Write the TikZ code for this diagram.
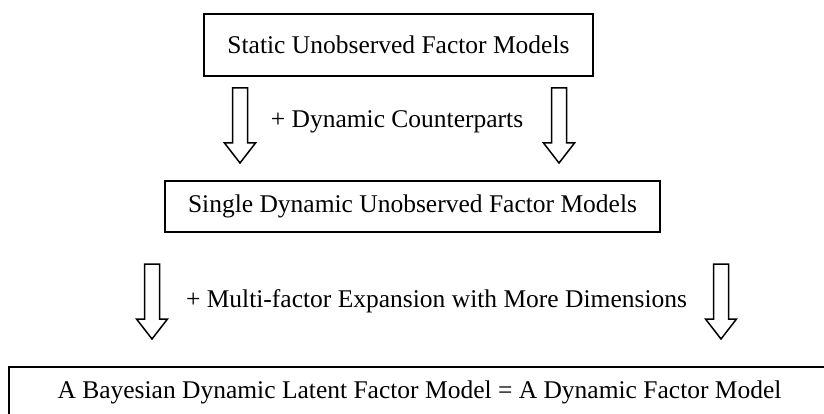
\documentclass[tikz,border=0pt]{standalone}
\usepackage{fontspec}
\setmainfont{Liberation Serif}
\begin{document}
\begin{tikzpicture}[x=1pt,y=1pt,
  txt/.style={font=\fontsize{25.5}{30}\selectfont},
  modelbox/.style={txt, draw, line width=1.5pt, inner sep=0pt},
  stepnote/.style={txt, inner sep=0pt},
  downblock/.pic={
    \draw[line width=1.5pt, line join=miter]
      (-7.5,0) -- (-7.5,-55) -- (-15.5,-55) -- (0,-75) -- (15.5,-55)
      -- (7.5,-55) -- (7.5,0) -- cycle;
  }]
  \useasboundingbox (0,0) rectangle (824,-414);

  % the three stages
  \node[modelbox, minimum width=389, minimum height=62] (static) at (398.5,-45)
    {Static Unobserved Factor Models};
  \node[modelbox, minimum width=495, minimum height=51] (single) at (412.5,-206.5)
    {Single Dynamic Unobserved Factor Models};
  \node[modelbox, minimum width=821, minimum height=50] (final) at (419.5,-392)
    {A Bayesian Dynamic Latent Factor Model = A Dynamic Factor Model};

  % first step: static -> single dynamic
  \pic at (240,-88) {downblock};
  \pic at (559,-88) {downblock};
  \node[stepnote] (dyn) at (397,-122) {+ Dynamic Counterparts};

  % second step: single dynamic -> multi-factor
  \pic at (152,-264) {downblock};
  \pic at (721,-264) {downblock};
  \node[stepnote] (multi) at (436.5,-301) {+ Multi-factor Expansion with More Dimensions};
\end{tikzpicture}
\end{document}
